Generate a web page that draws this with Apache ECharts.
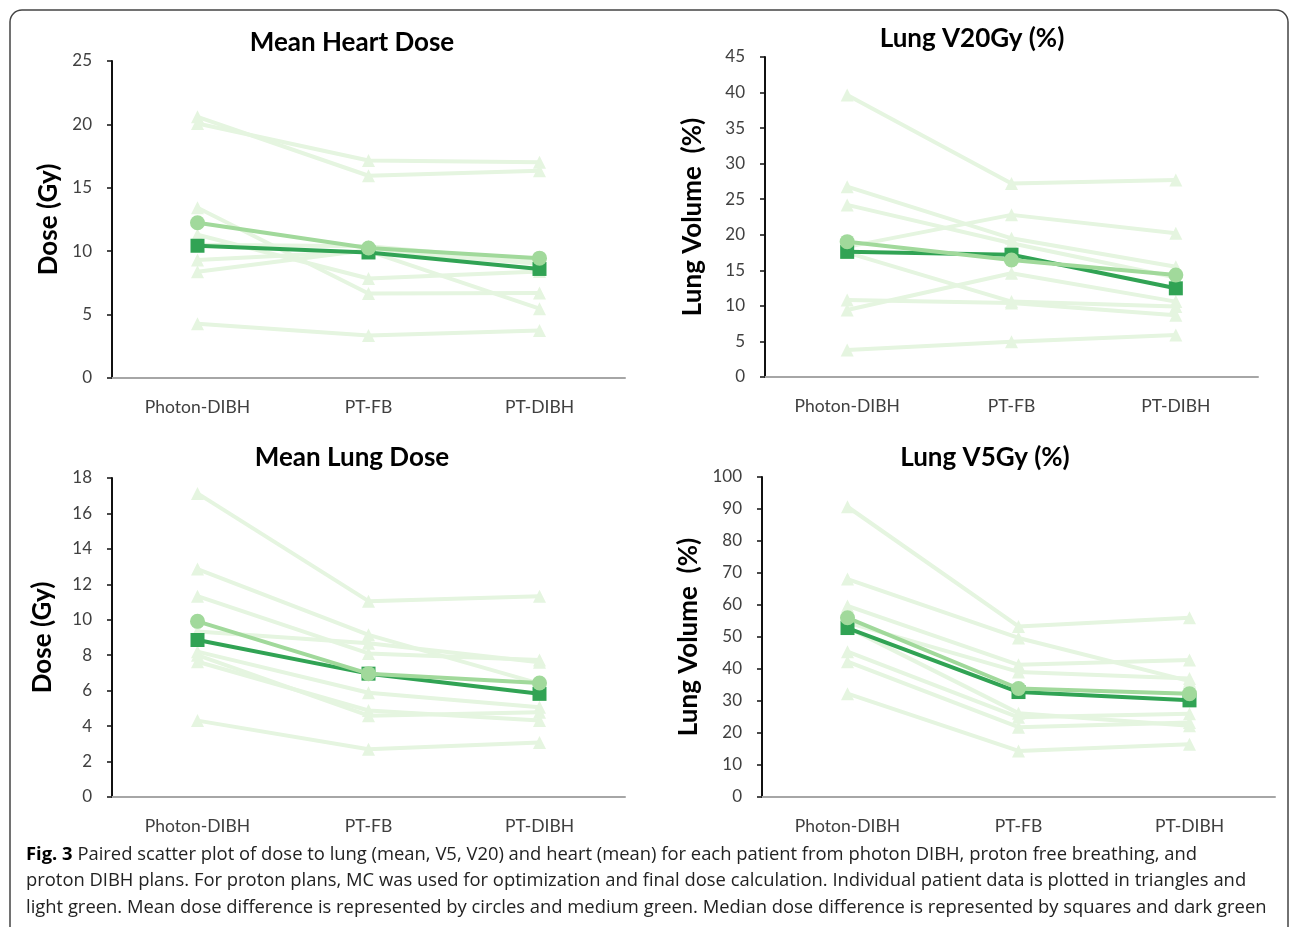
<!DOCTYPE html>
<html>
<head>
<meta charset="utf-8">
<script src="https://cdn.jsdelivr.net/npm/echarts@6/dist/echarts.min.js"></script>
<style>
  html, body { margin: 0; padding: 0; background: #fff; }
  #main { width: 1290px; height: 927px; }
</style>
</head>
<body>
<div id="main"></div>
<script>
// categories on every x axis
var categories = ['Photon-DIBH', 'PT-FB', 'PT-DIBH']

// Mean Heart Dose (Gy), one row per patient
var heartPatients = [
  [20.6, 15.95, 16.35],
  [20.07, 17.15, 17.02],
  [13.43, 6.66, 6.7],
  [11.3, 7.85, 8.4],
  [9.31, 10.0, 5.47],
  [8.38, 10.1, 9.0],
  [10.5, 10.4, 9.2],
  [4.27, 3.35, 3.74]
]
var heartMean = [12.24, 10.25, 9.45]
var heartMedian = [10.43, 9.9, 8.6]

// Lung V20Gy (%)
var v20Patients = [
  [39.66, 27.2, 27.7],
  [26.77, 19.5, 15.5],
  [24.2, 18.8, 14.0],
  [18.3, 22.8, 20.2],
  [17.5, 10.6, 9.9],
  [10.83, 10.4, 8.7],
  [9.42, 14.58, 10.6],
  [3.8, 4.97, 5.9]
]
var v20Mean = [19.03, 16.45, 14.35]
var v20Median = [17.6, 17.2, 12.47]

// Mean Lung Dose (Gy)
var mldPatients = [
  [17.13, 11.05, 11.33],
  [12.86, 9.15, 6.4],
  [11.33, 8.1, 7.73],
  [9.34, 8.67, 7.6],
  [8.2, 5.88, 5.06],
  [8.0, 4.59, 4.78],
  [7.63, 4.88, 4.31],
  [4.31, 2.69, 3.07]
]
var mldMean = [9.91, 6.96, 6.43]
var mldMedian = [8.86, 6.96, 5.82]

// Lung V5Gy (%)
var v5Patients = [
  [90.7, 53.3, 56.0],
  [68.1, 49.7, 36.2],
  [59.7, 41.3, 42.8],
  [54.5, 39.1, 37.0],
  [53.0, 26.2, 22.3],
  [45.4, 24.9, 26.0],
  [42.3, 21.8, 23.3],
  [32.3, 14.4, 16.5]
]
var v5Mean = [56.0, 33.9, 32.3]
var v5Median = [52.8, 32.8, 30.2]

var LIGHT = '#e5f5e0'
var MID = '#a1d99b'
var DARK = '#31a354'
var FONT = 'Lato, "Open Sans", sans-serif'

var chart = echarts.init(document.getElementById('main'), null, { renderer: 'canvas' })

// grids in pixels
var grids = [
  { left: 112, top: 61, width: 513, height: 317 },
  { left: 765, top: 57, width: 493, height: 320 },
  { left: 112, top: 478, width: 513, height: 319 },
  { left: 762, top: 477, width: 513, height: 320 }
]

function xAxisFor(i) {
  return {
    type: 'category',
    gridIndex: i,
    data: categories,
    boundaryGap: true,
    axisLine: { lineStyle: { color: '#a6a6a6', width: 2 } },
    axisTick: { alignWithLabel: true, length: 6, lineStyle: { color: '#a6a6a6', width: 1.5 } },
    axisLabel: { color: '#404040', fontSize: 17.5, fontFamily: FONT, margin: 20 },
    splitLine: { show: false }
  }
}

function yAxisFor(i, max, interval, name, gap) {
  return {
    type: 'value',
    gridIndex: i,
    min: 0,
    max: max,
    interval: interval,
    name: name,
    nameLocation: 'middle',
    nameGap: gap,
    nameTextStyle: { fontSize: 26, fontWeight: 'bold', color: '#000', fontFamily: FONT },
    axisLine: { show: true, lineStyle: { color: '#111', width: 2 } },
    axisTick: { show: true, length: 5, lineStyle: { color: '#111', width: 1.5 } },
    axisLabel: { color: '#404040', fontSize: 17, fontFamily: FONT, margin: 20 },
    splitLine: { show: false }
  }
}

function panelSeries(i, patients, mean, median) {
  var out = []
  patients.forEach(function (row) {
    out.push({
      type: 'line', xAxisIndex: i, yAxisIndex: i,
      data: row,
      symbol: 'triangle', symbolSize: 13,
      lineStyle: { color: LIGHT, width: 4 },
      itemStyle: { color: LIGHT },
      z: 2
    })
  })
  out.push({
    type: 'line', xAxisIndex: i, yAxisIndex: i,
    data: median,
    symbol: 'rect', symbolSize: 14,
    lineStyle: { color: DARK, width: 4 },
    itemStyle: { color: DARK },
    z: 3
  })
  out.push({
    type: 'line', xAxisIndex: i, yAxisIndex: i,
    data: mean,
    symbol: 'circle', symbolSize: 15,
    lineStyle: { color: MID, width: 4 },
    itemStyle: { color: MID },
    z: 4
  })
  return out
}

function titleFor(text, x, y) {
  return {
    text: text, left: x, top: y, textAlign: 'center',
    textStyle: { fontSize: 26, fontWeight: 'bold', color: '#000', fontFamily: FONT }
  }
}

var capStyle = { fontSize: 18.4, fontFamily: '"Open Sans", sans-serif', fill: '#222' }

var option = {
  animation: false,
  backgroundColor: '#fff',
  title: [
    titleFor('Mean Heart Dose', 347, 25),
    titleFor('Lung V20Gy (%)', 967, 21),
    titleFor('Mean Lung Dose', 347, 440),
    titleFor('Lung V5Gy (%)', 980, 440)
  ],
  grid: grids,
  xAxis: [xAxisFor(0), xAxisFor(1), xAxisFor(2), xAxisFor(3)],
  yAxis: [
    yAxisFor(0, 25, 5, 'Dose (Gy)', 50),
    yAxisFor(1, 45, 5, 'Lung Volume  (%)', 59),
    yAxisFor(2, 18, 2, 'Dose (Gy)', 56),
    yAxisFor(3, 100, 10, 'Lung Volume  (%)', 60)
  ],
  series: [].concat(
    panelSeries(0, heartPatients, heartMean, heartMedian),
    panelSeries(1, v20Patients, v20Mean, v20Median),
    panelSeries(2, mldPatients, mldMean, mldMedian),
    panelSeries(3, v5Patients, v5Mean, v5Median)
  ),
  graphic: [
    {
      type: 'rect', silent: true,
      shape: { x: 10, y: 10, width: 1278, height: 1000, r: 12 },
      style: { fill: 'none', stroke: '#444', lineWidth: 1.5 }
    },
    {
      type: 'text', left: 26, top: 846,
      style: {
        text: '{b|Fig. 3} Paired scatter plot of dose to lung (mean, V5, V20) and heart (mean) for each patient from photon DIBH, proton free breathing, and',
        fontSize: capStyle.fontSize, fontFamily: capStyle.fontFamily, fill: capStyle.fill,
        rich: { b: { fontWeight: 'bold', fontSize: capStyle.fontSize, fontFamily: capStyle.fontFamily, fill: '#000' } }
      }
    },
    {
      type: 'text', left: 26, top: 872,
      style: Object.assign({ text: 'proton DIBH plans. For proton plans, MC was used for optimization and final dose calculation. Individual patient data is plotted in triangles and' }, capStyle)
    },
    {
      type: 'text', left: 26, top: 899,
      style: Object.assign({ text: 'light green. Mean dose difference is represented by circles and medium green. Median dose difference is represented by squares and dark green' }, capStyle)
    }
  ]
}

chart.setOption(option)
</script>
</body>
</html>
